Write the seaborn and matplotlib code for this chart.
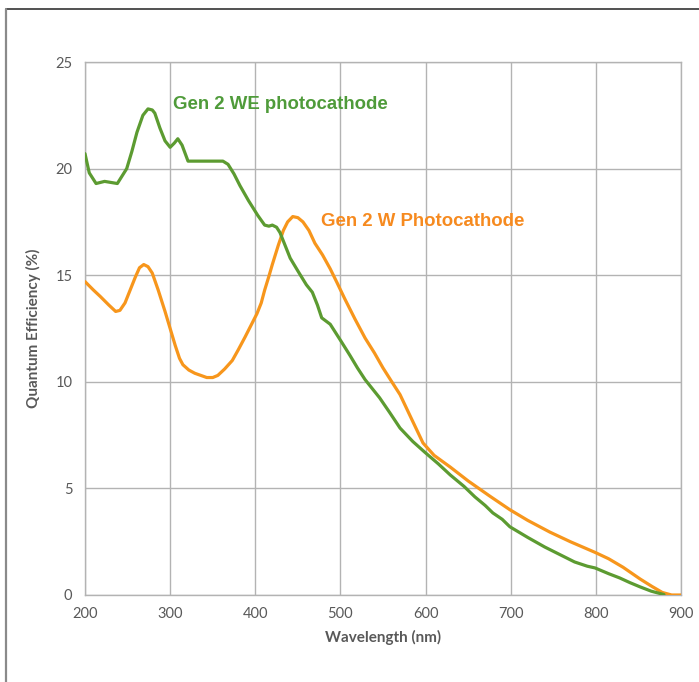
import numpy as np
import pandas as pd
import matplotlib
matplotlib.use("Agg")
import matplotlib.pyplot as plt
from matplotlib.lines import Line2D
import seaborn as sns

# Gen 2 WE photocathode (green)
we_wl = [200, 205, 213, 223, 238, 249, 255, 261, 268, 274, 279, 282, 288, 294, 300, 305, 309, 314,
         321, 329, 340, 356, 362, 368, 375, 382, 392, 403, 411, 416, 420, 425, 429, 435, 441,
         450, 460, 467, 473, 478, 483, 488, 500, 511, 520, 529, 546, 558, 570, 585, 599, 615,
         629, 645, 658, 670, 679, 690, 699, 720, 740, 760, 775, 790, 799, 815, 828, 840, 852,
         865, 880]
we_qe = [20.7, 19.8, 19.3, 19.4, 19.3, 20.0, 20.8, 21.7, 22.5, 22.8, 22.75, 22.6, 21.9, 21.3, 21.0,
         21.2, 21.4, 21.1, 20.35, 20.35, 20.35, 20.35, 20.35, 20.2, 19.75, 19.2, 18.5, 17.8, 17.35,
         17.3, 17.35, 17.25, 17.0, 16.4, 15.8, 15.2, 14.55, 14.2, 13.6, 13.0, 12.85, 12.7, 11.95,
         11.25, 10.65, 10.1, 9.25, 8.55, 7.83, 7.2, 6.7, 6.15, 5.63, 5.1, 4.6, 4.2, 3.85, 3.55,
         3.2, 2.7, 2.25, 1.85, 1.55, 1.35, 1.27, 1.0, 0.8, 0.58, 0.38, 0.18, 0.02]

# Gen 2 W Photocathode (orange)
w_wl = [200, 210, 218, 228, 236, 241, 247, 253, 259, 264, 269, 274, 279, 286, 294, 300, 306, 311,
        315, 322, 329, 336, 343, 350, 356, 364, 373, 380, 388, 395, 402, 407, 411, 416, 420, 427,
        433, 438, 444, 450, 456, 463, 470, 479, 488, 496, 505, 517, 529, 540, 550, 560, 570, 584,
        597, 610, 629, 650, 675, 699, 720, 746, 770, 799, 815, 832, 852, 866, 878, 889, 900]
w_qe = [14.7, 14.3, 14.0, 13.6, 13.3, 13.35, 13.7, 14.3, 14.9, 15.35, 15.5, 15.4, 15.1, 14.3, 13.3,
        12.5, 11.7, 11.1, 10.8, 10.55, 10.4, 10.3, 10.2, 10.2, 10.3, 10.6, 11.0, 11.5, 12.1,
        12.65, 13.2, 13.7, 14.3, 14.95, 15.5, 16.4, 17.1, 17.5, 17.75, 17.7, 17.5, 17.1, 16.5,
        15.95, 15.3, 14.65, 13.9, 12.95, 12.05, 11.35, 10.65, 10.02, 9.4, 8.22, 7.13, 6.55, 6.0,
        5.35, 4.65, 4.0, 3.5, 2.95, 2.5, 2.0, 1.7, 1.3, 0.75, 0.4, 0.12, 0.0, 0.0]

x_ticks = [200, 300, 400, 500, 600, 700, 800, 900]
y_ticks = [0, 5, 10, 15, 20, 25]

green_line = "#5c9b31"
green_text = "#4f9b3a"
orange_line = "#f7961c"
orange_text = "#f68a1f"
tick_gray = "#595959"
grid_gray = "#b3b3b3"

sns.set_style("white")
plt.rcParams['font.family'] = ['Lato', 'DejaVu Sans']

fig = plt.figure(figsize=(6.99, 6.82), dpi=100)
ax = fig.add_axes([85/699, (682-595)/682, (681-85)/699, (595-62)/682])

df_we = pd.DataFrame({"wl": we_wl, "qe": we_qe})
df_w = pd.DataFrame({"wl": w_wl, "qe": w_qe})
sns.lineplot(data=df_w, x="wl", y="qe", ax=ax, color=orange_line, lw=2.3, zorder=3)
sns.lineplot(data=df_we, x="wl", y="qe", ax=ax, color=green_line, lw=2.3, zorder=4)

ax.set_xlim(200, 900)
ax.set_ylim(0, 25)
ax.set_xticks(x_ticks)
ax.set_yticks(y_ticks)
ax.grid(True, color=grid_gray, lw=1.0)
for s in ax.spines.values():
    s.set_visible(True)
    s.set_color(grid_gray)
    s.set_linewidth(1.0)
ax.tick_params(axis='both', direction='out', length=5, width=1.0, color=grid_gray,
               labelcolor=tick_gray, labelsize=10.5, pad=4)
ax.set_xlabel("Wavelength (nm)", fontsize=11, fontweight='bold', color=tick_gray, labelpad=6)
ax.set_ylabel("Quantum Efficiency (%)", fontsize=11, fontweight='bold', color=tick_gray, labelpad=10)

ax.text(303, 23.0, "Gen 2 WE photocathode", color=green_text, fontsize=13.4, fontweight='bold',
        family=['Liberation Sans', 'DejaVu Sans'], va='center', ha='left', zorder=5)
ax.text(477, 17.5, "Gen 2 W Photocathode", color=orange_text, fontsize=13.4, fontweight='bold',
        family=['Liberation Sans', 'DejaVu Sans'], va='center', ha='left', zorder=5)

# outer frame lines
fig.add_artist(Line2D([6/699, 1.0], [1 - 9/682, 1 - 9/682], transform=fig.transFigure,
                      color="#333333", lw=1.2))
fig.add_artist(Line2D([6/699, 6/699], [0, 1 - 9/682], transform=fig.transFigure,
                      color="#8a8a8a", lw=1.6))

fig.savefig("out.png", dpi=100)
